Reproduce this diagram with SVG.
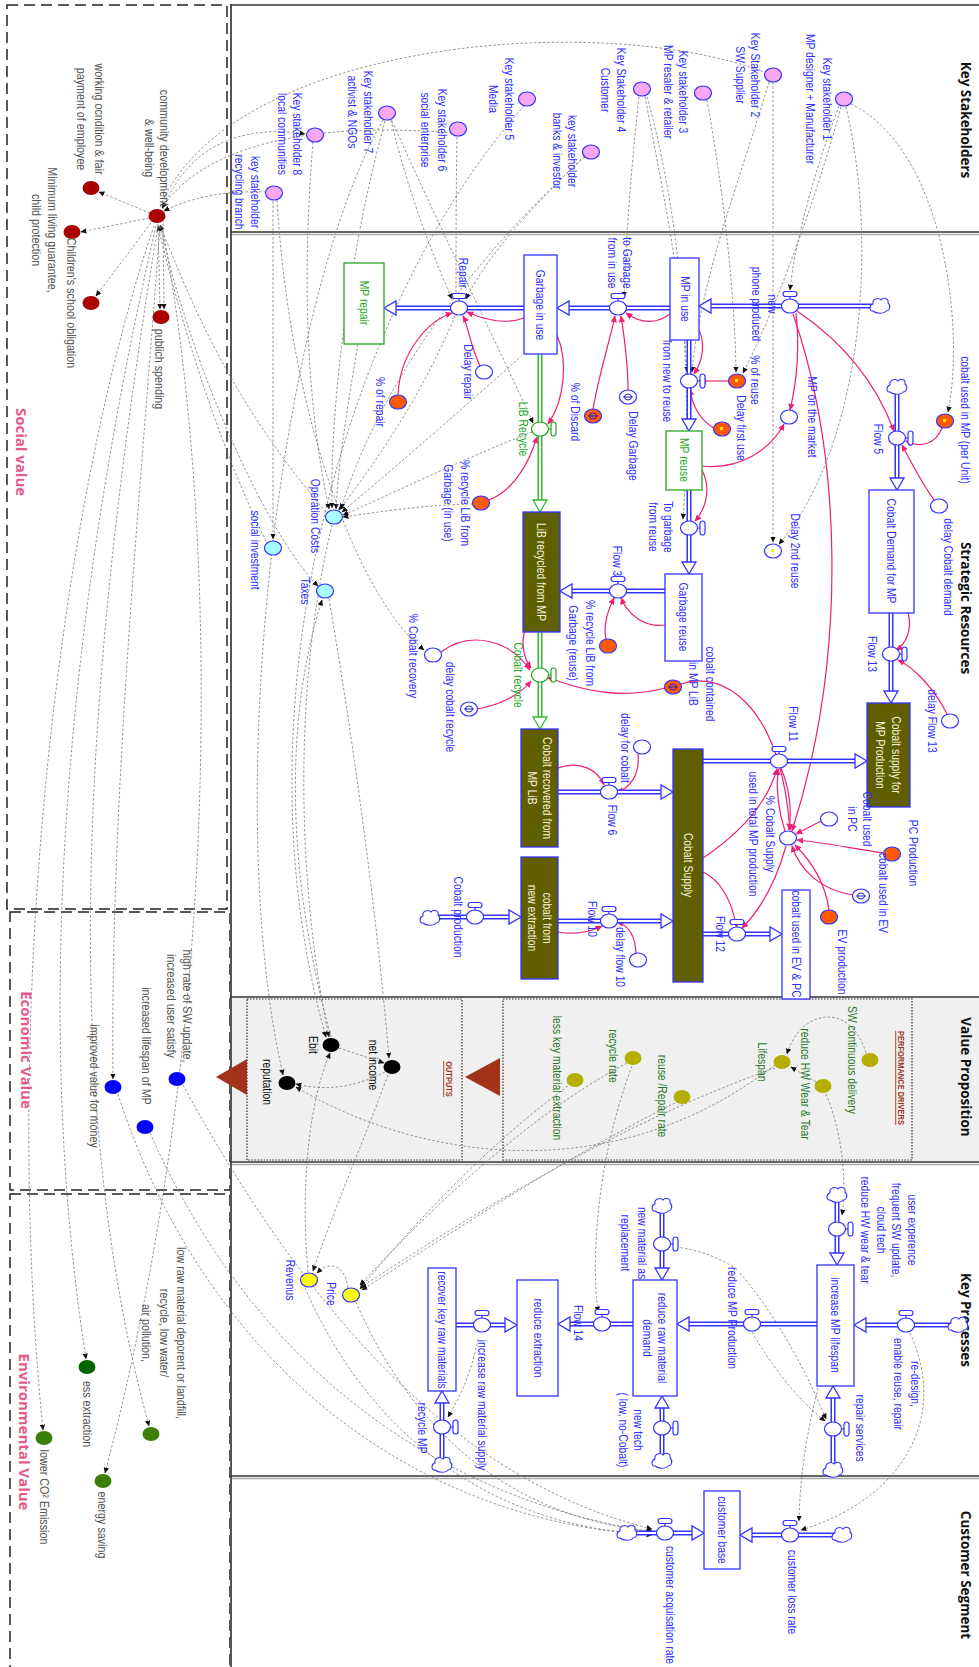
<svg xmlns="http://www.w3.org/2000/svg" xmlns:xlink="http://www.w3.org/1999/xlink" width="979" height="1667" viewBox="0 0 979 1667">
<defs>
<style>
.t{font-family:"Liberation Sans",Arial,sans-serif;font-size:12px;fill:#2f2fff;text-anchor:middle;dominant-baseline:central}
.g{fill:#25a825}
.gr{fill:#555;font-size:12.5px}
.w{fill:#f2f2dc}
.k{fill:#111}
.dg{fill:#2b7a2b}
.hd{font-family:"Liberation Sans",Arial,sans-serif;font-weight:bold;font-size:8.7px;fill:#9c3525;text-decoration:underline;text-anchor:middle;dominant-baseline:central}
.ti{font-family:"Open Sans","Liberation Sans",sans-serif;font-weight:700;font-size:13.5px;fill:#111;text-anchor:middle;dominant-baseline:central}
.pt{font-family:"Open Sans","Liberation Sans",sans-serif;font-weight:700;font-size:15px;fill:#e7588b;text-anchor:middle;dominant-baseline:central}
.n{stroke:#3333ff;stroke-width:1.2}
.pk{fill:#f8a8f6}.or{fill:#ff5a00}.wh{fill:#fff}.cy{fill:#a8ffff}.ye{fill:#ffff00}
.dr{fill:#aa0000}.bl{fill:#0000ff}.gn{fill:#3c7e0a}.dgn{fill:#006400}.ol{fill:#b3ae00}.bk{fill:#000}
.stk{fill:#fff;stroke:#3333ff;stroke-width:1.3}
.stg{fill:#fff;stroke:#22aa22;stroke-width:1.3}
.sto{fill:#5f5f00;stroke:#3333ff;stroke-width:1.3}
.po{fill:none;stroke:#3333ff;stroke-width:5}
.pg{fill:none;stroke:#33bb33;stroke-width:5}
.pi{fill:none;stroke:#fff;stroke-width:2}
.ah{fill:#fff;stroke:#3333ff;stroke-width:1.3}
.ahg{fill:#fff;stroke:#33bb33;stroke-width:1.3}
.vb{fill:#fff;stroke:#3333ff;stroke-width:1.2}
.vg{fill:#fff;stroke:#22aa22;stroke-width:1.2}
.cl{fill:#fff;stroke:#3333ff;stroke-width:1.1}
.dl{fill:none;stroke:#7a7a7a;stroke-width:.8;stroke-dasharray:2.5 2;marker-end:url(#ma)}
.dn{fill:none;stroke:#7a7a7a;stroke-width:.8;stroke-dasharray:2.5 2}
.pl{fill:none;stroke:#ee1f78;stroke-width:1.2;marker-end:url(#mp)}
.sec{stroke:#333;stroke-width:1.3}
.sec2{stroke:#aaa;stroke-width:1.5}
.dash{fill:none;stroke:#222;stroke-width:1.5;stroke-dasharray:11 6}
.dot{fill:none;stroke:#333;stroke-width:1.2;stroke-dasharray:1.5 1.5}
.phi{fill:none;stroke:#2222cc;stroke-width:1}
.ym{fill:#ffee00}
</style>
<marker id="ma" viewBox="0 0 10 10" refX="9" refY="5" markerUnits="userSpaceOnUse" markerWidth="6" markerHeight="6" orient="auto"><path d="M0,0.5 L10,5 L0,9.5 z" fill="#111"/></marker>
<marker id="mp" viewBox="0 0 10 10" refX="9" refY="5" markerUnits="userSpaceOnUse" markerWidth="7" markerHeight="7" orient="auto"><path d="M0,0.5 L10,5 L0,9.5 z" fill="#ee1f78"/></marker>
<g id="vh"><line x1="0" y1="-7" x2="0" y2="-10"/><rect x="-7" y="-14.5" width="14" height="5" rx="2.5"/><ellipse rx="8.5" ry="7"/></g>
<g id="vv"><line x1="8.5" y1="0" x2="11" y2="0"/><rect x="11" y="-7" width="5" height="14" rx="2.5"/><ellipse rx="8.5" ry="7"/></g>
<path id="cld" d="M-7,5 C-11,5 -11,-1 -7,-2 C-8,-7 -2,-9 1,-6 C3,-9 9,-8 8,-3 C11,-1 10,5 6,5 C4,8 -4,8 -7,5 Z"/>
<g id="phs"><ellipse rx="3.5" ry="3"/><line x1="-5" y1="0" x2="5" y2="0"/></g>
</defs>

<rect width="979" height="1667" fill="#fff"/>

<g id="frame">
<rect x="232" y="998" width="747" height="163" fill="#f0f0f0"/>
<rect class="dot" x="247" y="999" width="215" height="161"/>
<rect class="dot" x="503" y="999" width="409" height="161"/>
<rect class="dash" x="7" y="5" width="220" height="904"/>
<rect class="dash" x="10" y="912" width="220" height="278"/>
<rect class="dash" x="10" y="1194" width="220" height="480"/>
<line x1="231" y1="4" x2="231" y2="1667" stroke="#555" stroke-width="2"/>
<line class="sec" x1="230" y1="5" x2="979" y2="5"/>
<line class="sec" x1="230" y1="232" x2="979" y2="232"/><line class="sec2" x1="232" y1="234.5" x2="979" y2="234.5"/>
<line class="sec" x1="230" y1="997" x2="979" y2="997"/>
<line class="sec" x1="230" y1="1162" x2="979" y2="1162"/><line class="sec2" x1="232" y1="1164.5" x2="979" y2="1164.5"/>
<line class="sec" x1="230" y1="1476" x2="979" y2="1476"/><line class="sec2" x1="232" y1="1478.5" x2="979" y2="1478.5"/>
<polygon points="465,1077 500,1058 500,1096" fill="#a3321a"/>
<polygon points="216,1077 247,1059 247,1095" fill="#a3321a"/>
<text class="ti" transform="translate(966,120) rotate(90)">Key Stakeholders</text>
<text class="ti" transform="translate(966,608) rotate(90)">Strategic Resources</text>
<text class="ti" transform="translate(966,1077) rotate(90)">Value Proposition</text>
<text class="ti" transform="translate(966,1320) rotate(90)">Key Processes</text>
<text class="ti" transform="translate(966,1575) rotate(90)">Customer Segment</text>
<text class="pt" transform="translate(22,452) rotate(90)" font-size="16">Social value</text>
<text class="pt" transform="translate(27,1050) rotate(90)">Economic Value</text>
<text class="pt" transform="translate(25,1432) rotate(90)">Environmental Value</text>
<text class="hd" transform="translate(449,1079) rotate(90) scale(.86,1)">OUTPUTS</text>
<text class="hd" transform="translate(901,1078) rotate(90) scale(.86,1)">PERFORMANCE DRIVERS</text>
</g>

<g id="connectors">
<g id="info-links">
<path class="dl" d="M851,104 C945,150 965,330 948,412"/>
<path class="dl" d="M839,106 C815,170 795,240 790,290"/>
<path class="dl" d="M841,107 C810,220 770,320 743,373"/>
<path class="dl" d="M846,107 C880,250 860,450 779,544"/>
<path class="dl" d="M773,82 L773,542"/>
<path class="dl" d="M769,82 C740,180 700,280 692,372"/>
<path class="dl" d="M707,100 C725,200 735,300 736,372"/>
<path class="dl" d="M639,97 C630,180 626,240 624,297"/>
<path class="dl" d="M645,97 C665,200 684,300 687,372"/>
<path class="dl" d="M647,97 C690,250 690,420 683,519"/>
<path class="dl" d="M585,157 C480,250 380,380 341,509"/>
<path class="dl" d="M584,156 C540,200 490,250 466,299"/>
<path class="dl" d="M524,106 C350,300 230,700 326,1037"/>
<path class="dl" d="M457,137 C456,200 456,250 456,298"/>
<path class="dl" d="M391,120 C410,200 435,260 452,299"/>
<path class="dl" d="M385,121 C350,250 330,400 332,508"/>
<path class="dl" d="M383,120 C280,300 220,800 283,1075"/>
<path class="dl" d="M163,209 C190,140 250,125 305,134"/>
<path class="dl" d="M452,133 C300,120 200,150 162,208"/>
<path class="dl" d="M266,192 C220,190 185,200 164,211"/>
<path class="dl" d="M273,201 L273,539"/>
<path class="dn" d="M160,207 C230,40 600,10 764,72"/>
<path class="dl" d="M392,121 C450,250 500,350 533,423"/>
<path class="dl" d="M313,142 C300,300 310,420 329,509"/>
<path class="dl" d="M358,344 C345,420 338,470 336,509"/>
<path class="dl" d="M526,352 C450,420 380,480 342,512"/>
<path class="dl" d="M532,432 C460,460 390,495 343,515"/>
<path class="dl" d="M473,504 C420,505 380,512 343,517"/>
<path class="dl" d="M455,316 C420,400 370,470 339,510"/>
<path class="dl" d="M326,512 C230,400 190,300 160,225"/>
<path class="dl" d="M332,525 C290,700 300,900 329,1037"/>
<path class="dl" d="M329,599 C360,780 380,950 389,1058"/>
<path class="dl" d="M268,545 C220,450 180,320 158,226"/>
<path class="dl" d="M331,1037 C280,850 290,700 322,600"/>
<path class="dl" d="M160,226 C200,400 280,550 318,586"/>
<path class="dl" d="M277,200 C290,420 360,600 424,650"/>
<path class="dl" d="M158,224 L160,309"/>
<path class="dl" d="M163,224 L164,309"/>
<path class="dl" d="M150,213 L99,192"/>
<path class="dl" d="M149,218 L81,232"/>
<path class="dl" d="M151,223 L96,296"/>
<path class="dl" d="M154,226 C60,500 0,1000 43,1430"/>
<path class="dl" d="M156,226 C70,600 30,1000 86,1359"/>
<path class="dl" d="M158,226 C80,700 60,1100 149,1426"/>
<path class="dl" d="M160,226 C140,500 110,800 113,1079"/>
<path class="dl" d="M162,226 C215,500 230,1000 105,1473"/>
<path class="dl" d="M183,1085 C300,1300 450,1480 652,1529"/>
<path class="dl" d="M150,1133 C260,1380 450,1500 652,1532"/>
<path class="dl" d="M118,1094 C200,1350 400,1520 652,1535"/>
<path class="dl" d="M866,1053 C850,1000 800,1010 787,1054"/>
<path class="dl" d="M816,1082 L791,1067"/>
<path class="dl" d="M826,1094 C845,1140 846,1190 842,1215"/>
<path class="dl" d="M775,1068 C600,1130 450,1230 361,1287"/>
<path class="dl" d="M675,1103 C560,1160 440,1240 362,1290"/>
<path class="dl" d="M568,1086 C480,1150 400,1240 360,1289"/>
<path class="dl" d="M632,1066 C600,1150 590,1250 598,1312"/>
<path class="dl" d="M627,1063 C520,1120 420,1220 360,1285"/>
<path class="dl" d="M775,1065 C600,1200 400,1150 296,1087"/>
<path class="dl" d="M339,1048 L384,1063"/>
<path class="dl" d="M385,1072 C350,1090 320,1090 296,1084"/>
<path class="dl" d="M348,1288 C345,1265 330,1260 317,1273"/>
<path class="dl" d="M388,1075 C360,1150 330,1220 313,1271"/>
<path class="dl" d="M308,1272 C300,1180 310,1100 330,1053"/>
<path class="dl" d="M356,1302 C420,1450 530,1520 652,1531"/>
<path class="dl" d="M305,1288 C380,1460 520,1530 652,1534"/>
<path class="dl" d="M752,1332 C780,1380 805,1405 825,1421"/>
<path class="dl" d="M740,1273 C780,1320 810,1380 826,1419"/>
<path class="dl" d="M910,1333 C950,1420 900,1500 801,1530"/>
<path class="dl" d="M818,1388 C805,1440 800,1480 799,1521"/>
<path class="dl" d="M478,1339 C470,1380 455,1405 448,1417"/>
<path class="dn" d="M676,1247 C700,1250 720,1258 738,1270"/>
</g>
<g id="causal-links">
<path class="pl" d="M398,395 C400,350 430,320 452,313"/>
<path class="pl" d="M480,366 C470,345 468,325 463,316"/>
<path class="pl" d="M524,318 C505,325 485,320 467,312"/>
<path class="pl" d="M489,500 C515,490 530,460 537,437"/>
<path class="pl" d="M557,335 C568,360 565,400 548,424"/>
<path class="pl" d="M593,409 C600,370 610,340 615,316"/>
<path class="pl" d="M628,390 C628,360 624,335 621,316"/>
<path class="pl" d="M670,314 C655,325 640,323 626,313"/>
<path class="pl" d="M699,330 C706,345 702,362 694,374"/>
<path class="pl" d="M729,381 L700,381"/>
<path class="pl" d="M715,429 C700,420 692,405 690,389"/>
<path class="pl" d="M702,470 C712,490 705,510 695,521"/>
<path class="pl" d="M702,466 C740,470 770,450 784,424"/>
<path class="pl" d="M796,313 C800,350 796,385 790,410"/>
<path class="pl" d="M797,311 C840,340 875,380 894,431"/>
<path class="pl" d="M793,314 C840,450 850,650 792,831"/>
<path class="pl" d="M942,428 C935,445 920,448 906,441"/>
<path class="pl" d="M934,500 C920,480 910,460 902,445"/>
<path class="pl" d="M908,613 C913,630 905,645 896,650"/>
<path class="pl" d="M947,714 C935,690 915,668 898,660"/>
<path class="pl" d="M665,625 C645,628 628,615 621,598"/>
<path class="pl" d="M606,639 C603,625 608,610 614,598"/>
<path class="pl" d="M525,630 C520,645 525,660 531,668"/>
<path class="pl" d="M441,652 C470,630 510,640 530,670"/>
<path class="pl" d="M477,709 C500,705 520,695 531,681"/>
<path class="pl" d="M665,688 C620,700 580,690 547,677"/>
<path class="pl" d="M681,684 C720,670 780,700 790,830"/>
<path class="pl" d="M558,768 C580,760 598,770 604,785"/>
<path class="pl" d="M638,754 C640,775 630,788 617,792"/>
<path class="pl" d="M558,932 C575,935 590,932 602,926"/>
<path class="pl" d="M636,953 C635,935 628,925 617,922"/>
<path class="pl" d="M703,872 C720,880 732,900 736,926"/>
<path class="pl" d="M703,858 C730,840 765,810 777,769"/>
<path class="pl" d="M781,768 C790,790 792,810 789,830"/>
<path class="pl" d="M785,831 C778,810 776,790 778,769"/>
<path class="pl" d="M786,846 C775,885 760,910 742,928"/>
<path class="pl" d="M821,821 L796,834"/>
<path class="pl" d="M884,853 C850,848 820,842 797,840"/>
<path class="pl" d="M853,895 C820,890 800,870 792,846"/>
<path class="pl" d="M829,910 C825,880 810,860 795,845"/>
</g>
<g id="flow-pipes">
<path class="po" d="M880,306H711M670,308H569M524,308H396M665,591H572M558,792H661M558,921H661M430,917H509M703,761H855M703,934H770M958,1325H866M817,1324H689M633,1324H570M456,1325H505M627,1533H692M842,1535H752M689,340V419M689,490V562M897,387V478M891,613V691M837,1195V1253M833,1470V1398M662,1206V1268M662,1461V1408M442,1465V1403"/>
<path class="pg" d="M540,354V500M540,632V717"/>
<path class="pi" d="M880,306H711M670,308H569M524,308H396M665,591H572M558,792H661M558,921H661M430,917H509M703,761H855M703,934H770M958,1325H866M817,1324H689M633,1324H570M456,1325H505M627,1533H692M842,1535H752M689,340V419M689,490V562M897,387V478M891,613V691M837,1195V1253M833,1470V1398M662,1206V1268M662,1461V1408M442,1465V1403M540,354V500M540,632V717"/>
<polygon class="ah" points="699,306 711,299 711,313"/>
<polygon class="ah" points="557,308 569,301 569,315"/>
<polygon class="ah" points="384,308 396,301 396,315"/>
<polygon class="ah" points="560,591 572,584 572,598"/>
<polygon class="ah" points="673,792 661,785 661,799"/>
<polygon class="ah" points="673,921 661,914 661,928"/>
<polygon class="ah" points="521,917 509,910 509,924"/>
<polygon class="ah" points="867,761 855,754 855,768"/>
<polygon class="ah" points="782,934 770,927 770,941"/>
<polygon class="ah" points="854,1325 866,1318 866,1332"/>
<polygon class="ah" points="677,1324 689,1317 689,1331"/>
<polygon class="ah" points="558,1324 570,1317 570,1331"/>
<polygon class="ah" points="517,1325 505,1318 505,1332"/>
<polygon class="ah" points="704,1533 692,1526 692,1540"/>
<polygon class="ah" points="740,1535 752,1528 752,1542"/>
<polygon class="ah" points="689,431 682,419 696,419"/>
<polygon class="ah" points="689,574 682,562 696,562"/>
<polygon class="ahg" points="540,512 533,500 547,500"/>
<polygon class="ahg" points="540,729 533,717 547,717"/>
<polygon class="ah" points="897,490 890,478 904,478"/>
<polygon class="ah" points="891,703 884,691 898,691"/>
<polygon class="ah" points="837,1265 830,1253 844,1253"/>
<polygon class="ah" points="833,1386 826,1398 840,1398"/>
<polygon class="ah" points="662,1280 655,1268 669,1268"/>
<polygon class="ah" points="662,1396 655,1408 669,1408"/>
<polygon class="ah" points="442,1391 435,1403 449,1403"/>
</g>
</g>

<g id="clouds">
<use href="#cld" class="cl" x="880" y="306"/>
<use href="#cld" class="cl" x="430" y="918"/>
<use href="#cld" class="cl" x="897" y="387"/>
<use href="#cld" class="cl" x="837" y="1195"/>
<use href="#cld" class="cl" x="958" y="1325"/>
<use href="#cld" class="cl" x="833" y="1470"/>
<use href="#cld" class="cl" x="662" y="1206"/>
<use href="#cld" class="cl" x="662" y="1461"/>
<use href="#cld" class="cl" x="442" y="1465"/>
<use href="#cld" class="cl" x="627" y="1533"/>
<use href="#cld" class="cl" x="842" y="1535"/>
</g>

<g id="ks1"><ellipse class="n pk" cx="844" cy="99" rx="8.5" ry="7"/><text class="t" transform="translate(827,99) rotate(90) scale(.86,1)"><tspan x="0" y="0">Key stakeholder 1</tspan><tspan x="0" y="17">MP designer + Manufacturer</tspan></text></g>
<g id="ks2"><ellipse class="n pk" cx="773" cy="75" rx="8.5" ry="7"/><text class="t" transform="translate(755,75) rotate(90) scale(.86,1)"><tspan x="0" y="0">Key Stakeholder 2</tspan><tspan x="0" y="15">SW Supplier</tspan></text></g>
<g id="ks3"><ellipse class="n pk" cx="703" cy="93" rx="8.5" ry="7"/><text class="t" transform="translate(683,92) rotate(90) scale(.86,1)"><tspan x="0" y="0">Key stakeholder 3</tspan><tspan x="0" y="15">MP resaler &amp; retailer</tspan></text></g>
<g id="ks4"><ellipse class="n pk" cx="642" cy="89" rx="8.5" ry="7"/><text class="t" transform="translate(621,90) rotate(90) scale(.86,1)"><tspan x="0" y="0">Key Stakeholder 4</tspan><tspan x="0" y="16">Customer</tspan></text></g>
<g id="ks-banks"><ellipse class="n pk" cx="591" cy="152" rx="8.5" ry="7"/><text class="t" transform="translate(572,151) rotate(90) scale(.86,1)"><tspan x="0" y="0">key stakeholder</tspan><tspan x="0" y="15">banks &amp; investor</tspan></text></g>
<g id="ks5"><ellipse class="n pk" cx="527" cy="99" rx="8.5" ry="7"/><text class="t" transform="translate(509,99) rotate(90) scale(.86,1)"><tspan x="0" y="0">Key stakeholder 5</tspan><tspan x="0" y="16">Media</tspan></text></g>
<g id="ks6"><ellipse class="n pk" cx="458" cy="129" rx="8.5" ry="7"/><text class="t" transform="translate(442,130) rotate(90) scale(.86,1)"><tspan x="0" y="0">Key stakeholder 6</tspan><tspan x="0" y="17">social enterprise</tspan></text></g>
<g id="ks7"><ellipse class="n pk" cx="387" cy="113" rx="8.5" ry="7"/><text class="t" transform="translate(368,112) rotate(90) scale(.86,1)"><tspan x="0" y="0">Key stakeholder 7</tspan><tspan x="0" y="16">activist &amp; NGOs</tspan></text></g>
<g id="ks8"><ellipse class="n pk" cx="315" cy="135" rx="8.5" ry="7"/><text class="t" transform="translate(297,134) rotate(90) scale(.86,1)"><tspan x="0" y="0">Key stakeholder 8</tspan><tspan x="0" y="15">local communities</tspan></text></g>
<g id="ks-recycling"><ellipse class="n pk" cx="274" cy="193" rx="8.5" ry="7"/><text class="t" transform="translate(255,192) rotate(90) scale(.86,1)"><tspan x="0" y="0">key stakeholder</tspan><tspan x="0" y="16">recycling branch</tspan></text></g>

<g id="mp-in-use"><rect class="stk" x="670" y="258" width="29" height="82"/><text class="t" transform="translate(685,299) rotate(90) scale(.86,1)">MP in use</text></g>
<g id="garbage-in-use"><rect class="stk" x="524" y="255" width="33" height="99"/><text class="t" transform="translate(540,305) rotate(90) scale(.86,1)">Garbage in use</text></g>
<g id="mp-repair"><rect class="stg" x="344" y="263" width="40" height="81"/><text class="t g" transform="translate(364,303) rotate(90) scale(.86,1)">MP repair</text></g>
<g id="mp-reuse"><rect class="stg" x="666" y="431" width="36" height="59"/><text class="t g" transform="translate(684,460) rotate(90) scale(.86,1)">MP reuse</text></g>
<g id="garbage-reuse"><rect class="stk" x="665" y="574" width="37" height="87"/><text class="t" transform="translate(683,617) rotate(90) scale(.86,1)">Garbage reuse</text></g>
<g id="cobalt-demand"><rect class="stk" x="869" y="490" width="45" height="123"/><text class="t" transform="translate(891,551) rotate(90) scale(.86,1)">Cobalt Demand for MP</text></g>
<g id="cobalt-ev-pc"><rect class="stk" x="782" y="890" width="28" height="109"/><text class="t" transform="translate(796,944) rotate(90) scale(.86,1)">cobalt used in EV &amp; PC</text></g>
<g id="lib-recycled"><rect class="sto" x="523" y="512" width="37" height="120"/><text class="t w" transform="translate(541,572) rotate(90) scale(.86,1)">LiB recycled from MP</text></g>
<g id="cobalt-recovered"><rect class="sto" x="521" y="729" width="37" height="118"/><text class="t w" transform="translate(547,788) rotate(90) scale(.86,1)"><tspan x="0" y="0">Cobalt recovered from</tspan><tspan x="0" y="15">MP LiB</tspan></text></g>
<g id="cobalt-new-extraction"><rect class="sto" x="521" y="857" width="37" height="122"/><text class="t w" transform="translate(547,918) rotate(90) scale(.86,1)"><tspan x="0" y="0">cobalt from</tspan><tspan x="0" y="15">new extraction</tspan></text></g>
<g id="cobalt-supply"><rect class="sto" x="673" y="749" width="30" height="233"/><text class="t w" transform="translate(688,865) rotate(90) scale(.86,1)">Cobalt Supply</text></g>
<g id="cobalt-supply-mp"><rect class="sto" x="867" y="703" width="43" height="104"/><text class="t w" transform="translate(896,755) rotate(90) scale(.86,1)"><tspan x="0" y="0">Cobalt supply for</tspan><tspan x="0" y="16">MP Production</tspan></text></g>

<g id="v-new-phone"><use href="#vh" class="vb" x="790" y="306"/><text class="t" transform="translate(772,304) rotate(90) scale(.86,1)"><tspan x="0" y="0">new</tspan><tspan x="0" y="16">phone produced</tspan></text></g>
<g id="v-to-garbage"><use href="#vh" class="vb" x="618" y="308"/><text class="t" transform="translate(627,263) rotate(90) scale(.86,1)"><tspan x="0" y="0">to Garbage</tspan><tspan x="0" y="15">from in use</tspan></text></g>
<g id="v-repair"><use href="#vh" class="vb" x="459" y="308"/><text class="t" transform="translate(463,273) rotate(90) scale(.86,1)">Repair</text></g>
<g id="v-new-reuse"><use href="#vv" class="vb" x="689" y="381"/><text class="t" transform="translate(667,381) rotate(90) scale(.86,1)">from new to reuse</text></g>
<g id="v-garbage-reuse"><use href="#vv" class="vb" x="689" y="528"/><text class="t" transform="translate(668,527) rotate(90) scale(.86,1)"><tspan x="0" y="0">To garbage</tspan><tspan x="0" y="15">from reuse</tspan></text></g>
<g id="v-lib-recycle"><use href="#vv" class="vg" x="540" y="429"/><text class="t g" transform="translate(523,429) rotate(90) scale(.86,1)">LiB Recycle</text></g>
<g id="v-flow3"><use href="#vh" class="vb" x="618" y="591"/><text class="t" transform="translate(617,561) rotate(90) scale(.86,1)">Flow 3</text></g>
<g id="v-cobalt-recycle"><use href="#vv" class="vg" x="540" y="675"/><text class="t g" transform="translate(518,675) rotate(90) scale(.86,1)">Cobalt recycle</text></g>
<g id="v-flow6"><use href="#vh" class="vb" x="609" y="792"/><text class="t" transform="translate(612,820) rotate(90) scale(.86,1)">Flow 6</text></g>
<g id="v-flow10"><use href="#vh" class="vb" x="609" y="921"/><text class="t" transform="translate(592,919) rotate(90) scale(.86,1)">Flow 10</text></g>
<g id="v-cobalt-production"><use href="#vh" class="vb" x="475" y="917"/><text class="t" transform="translate(458,917) rotate(90) scale(.86,1)">Cobalt production</text></g>
<g id="v-flow11"><use href="#vh" class="vb" x="779" y="761"/><text class="t" transform="translate(793,724) rotate(90) scale(.86,1)">Flow 11</text></g>
<g id="v-flow12"><use href="#vh" class="vb" x="737" y="934"/><text class="t" transform="translate(720,934) rotate(90) scale(.86,1)">Flow 12</text></g>
<g id="v-flow5"><use href="#vv" class="vb" x="897" y="438"/><text class="t" transform="translate(878,439) rotate(90) scale(.86,1)">Flow 5</text></g>
<g id="v-flow13"><use href="#vv" class="vb" x="891" y="654"/><text class="t" transform="translate(872,654) rotate(90) scale(.86,1)">Flow 13</text></g>

<g id="delay-repair"><ellipse class="n wh" cx="484" cy="372" rx="8.5" ry="7"/><text class="t" transform="translate(468,372) rotate(90) scale(.86,1)">Delay repair</text></g>
<g id="pct-repair"><ellipse class="n or" cx="398" cy="402" rx="8.5" ry="7"/><text class="t" transform="translate(380,402) rotate(90) scale(.86,1)">% of repair</text></g>
<g id="pct-recycle-inuse"><ellipse class="n or" cx="481" cy="503" rx="8.5" ry="7"/><text class="t" transform="translate(465,503) rotate(90) scale(.86,1)"><tspan x="0" y="0">% recycle LiB from</tspan><tspan x="0" y="17">Garbage (in use)</tspan></text></g>
<g id="pct-discard"><ellipse class="n or" cx="593" cy="416" rx="8.5" ry="7"/><use href="#phs" class="phi" x="593" y="416"/><text class="t" transform="translate(575,412) rotate(90) scale(.86,1)">% of Discard</text></g>
<g id="delay-garbage"><ellipse class="n wh" cx="628" cy="397" rx="8.5" ry="7"/><use href="#phs" class="phi" x="628" y="397"/><text class="t" transform="translate(633,446) rotate(90) scale(.86,1)">Delay Garbage</text></g>
<g id="pct-reuse"><ellipse class="n or" cx="737" cy="381" rx="8.5" ry="7"/><rect class="ym" x="735" y="379" width="3" height="3"/><text class="t" transform="translate(755,380) rotate(90) scale(.86,1)">% of reuse</text></g>
<g id="delay-first-use"><ellipse class="n or" cx="722" cy="429" rx="8.5" ry="7"/><rect class="ym" x="720" y="427" width="3" height="3"/><text class="t" transform="translate(741,428) rotate(90) scale(.86,1)">Delay first use</text></g>
<g id="mp-market"><ellipse class="n wh" cx="789" cy="417" rx="8.5" ry="7"/><text class="t" transform="translate(812,417) rotate(90) scale(.86,1)">MP on the market</text></g>
<g id="cobalt-mp-unit"><ellipse class="n or" cx="945" cy="421" rx="8.5" ry="7"/><rect class="ym" x="943" y="419" width="3" height="3"/><text class="t" transform="translate(965,420) rotate(90) scale(.86,1)">cobalt used in MP (per Unit)</text></g>
<g id="delay-cobalt-demand"><ellipse class="n wh" cx="939" cy="506" rx="8.5" ry="7"/><text class="t" transform="translate(948,567) rotate(90) scale(.86,1)">delay Cobalt demand</text></g>
<g id="delay-2nd-reuse"><ellipse class="n wh" cx="773" cy="551" rx="8.5" ry="7"/><rect class="ym" x="771" y="549" width="3" height="3"/><text class="t" transform="translate(795,551) rotate(90) scale(.86,1)">Delay 2nd reuse</text></g>
<g id="delay-flow13"><ellipse class="n wh" cx="950" cy="721" rx="8.5" ry="7"/><text class="t" transform="translate(932,721) rotate(90) scale(.86,1)">delay Flow 13</text></g>
<g id="pct-recycle-reuse"><ellipse class="n or" cx="608" cy="646" rx="8.5" ry="7"/><text class="t" transform="translate(590,643) rotate(90) scale(.86,1)"><tspan x="0" y="0">% recycle LiB from</tspan><tspan x="0" y="17">Garbage (reuse)</tspan></text></g>
<g id="cobalt-contained"><ellipse class="n or" cx="673" cy="687" rx="8.5" ry="7"/><use href="#phs" class="phi" x="673" y="687"/><text class="t" transform="translate(710,684) rotate(90) scale(.86,1)"><tspan x="0" y="0">cobalt contained</tspan><tspan x="0" y="17">in MP LiB</tspan></text></g>
<g id="pct-cobalt-recovery"><ellipse class="n wh" cx="433" cy="655" rx="8.5" ry="7"/><text class="t" transform="translate(413,656) rotate(90) scale(.86,1)">% Cobalt recovery</text></g>
<g id="delay-cobalt-recycle"><ellipse class="n wh" cx="469" cy="709" rx="8.5" ry="7"/><use href="#phs" class="phi" x="469" y="709"/><text class="t" transform="translate(450,707) rotate(90) scale(.86,1)">delay cobalt recycle</text></g>
<g id="delay-for-cobalt"><ellipse class="n wh" cx="642" cy="747" rx="8.5" ry="7"/><text class="t" transform="translate(625,748) rotate(90) scale(.86,1)">delay for cobalt</text></g>
<g id="delay-flow10"><ellipse class="n wh" cx="638" cy="960" rx="8.5" ry="7"/><text class="t" transform="translate(620,957) rotate(90) scale(.86,1)">delay flow 10</text></g>
<g id="pct-cobalt-supply"><ellipse class="n wh" cx="788" cy="838" rx="8.5" ry="7"/><text class="t" transform="translate(770,834) rotate(90) scale(.86,1)"><tspan x="0" y="0">% Cobalt Supply</tspan><tspan x="0" y="17">used in total MP production</tspan></text></g>
<g id="cobalt-pc"><ellipse class="n wh" cx="829" cy="819" rx="8.5" ry="7"/><text class="t" transform="translate(867,819) rotate(90) scale(.86,1)"><tspan x="0" y="0">Cobalt used</tspan><tspan x="0" y="15">in PC</tspan></text></g>
<g id="pc-production"><ellipse class="n or" cx="892" cy="854" rx="8.5" ry="7"/><text class="t" transform="translate(913,853) rotate(90) scale(.86,1)">PC Production</text></g>
<g id="cobalt-ev"><ellipse class="n wh" cx="861" cy="896" rx="8.5" ry="7"/><use href="#phs" class="phi" x="861" y="896"/><text class="t" transform="translate(883,893) rotate(90) scale(.86,1)">cobalt used in EV</text></g>
<g id="ev-production"><ellipse class="n or" cx="829" cy="917" rx="8.5" ry="7"/><text class="t" transform="translate(842,962) rotate(90) scale(.86,1)">EV production</text></g>
<g id="operation-costs"><ellipse class="n cy" cx="334" cy="517" rx="8.5" ry="7"/><text class="t" transform="translate(315,516) rotate(90) scale(.86,1)">Operation Costs</text></g>
<g id="social-investment"><ellipse class="n cy" cx="273" cy="548" rx="8.5" ry="7"/><text class="t" transform="translate(255,550) rotate(90) scale(.86,1)">social investment</text></g>
<g id="taxes"><ellipse class="n cy" cx="325" cy="591" rx="8.5" ry="7"/><text class="t" transform="translate(305,591) rotate(90) scale(.86,1)">Taxes</text></g>

<g id="community"><ellipse class="dr" cx="157" cy="216" rx="8.5" ry="7"/><text class="t gr" transform="translate(165,148) rotate(90) scale(.86,1)"><tspan x="0" y="0">community development</tspan><tspan x="0" y="15">&amp; well-being</tspan></text></g>
<g id="working"><ellipse class="dr" cx="91" cy="188" rx="8.5" ry="7"/><text class="t gr" transform="translate(100,119) rotate(90) scale(.86,1)"><tspan x="0" y="0">working ocndition &amp; fair</tspan><tspan x="0" y="18">payment of employee</tspan></text></g>
<g id="children"><ellipse class="dr" cx="72" cy="232" rx="8.5" ry="7"/><text class="t gr" transform="translate(72,303) rotate(90) scale(.86,1)">Children's school obligation</text></g>
<g id="minimum-living"><ellipse class="dr" cx="91" cy="303" rx="8.5" ry="7"/><text class="t gr" transform="translate(53,230) rotate(90) scale(.86,1)"><tspan x="0" y="0">Minimum living guarantee,</tspan><tspan x="0" y="16">child protection</tspan></text></g>
<g id="public-spending"><ellipse class="dr" cx="161" cy="317" rx="8.5" ry="7"/><text class="t gr" transform="translate(160,369) rotate(90) scale(.86,1)">publich spending</text></g>

<g id="high-rate-sw"><ellipse class="bl" cx="177" cy="1079" rx="8.5" ry="7"/><text class="t gr" transform="translate(188,1006) rotate(90) scale(.86,1)"><tspan x="0" y="0">high rate of SW update,</tspan><tspan x="0" y="16">increased user satisfy</tspan></text></g>
<g id="increased-lifespan"><ellipse class="bl" cx="145" cy="1127" rx="8.5" ry="7"/><text class="t gr" transform="translate(147,1046) rotate(90) scale(.86,1)">increased lifespan of MP</text></g>
<g id="value-money"><ellipse class="bl" cx="113" cy="1087" rx="8.5" ry="7"/><text class="t gr" transform="translate(95,1086) rotate(90) scale(.86,1)">improved value for money</text></g>

<g id="low-raw"><ellipse class="gn" cx="151" cy="1434" rx="8.5" ry="7"/><text class="t gr" transform="translate(182,1333) rotate(90) scale(.86,1)"><tspan x="0" y="0">low raw material deporent or landfill,</tspan><tspan x="0" y="17">recycle, low water/</tspan><tspan x="0" y="35">air pollution,</tspan></text></g>
<g id="less-extraction"><ellipse class="dgn" cx="87" cy="1367" rx="8.5" ry="7"/><text class="t gr" transform="translate(88,1414) rotate(90) scale(.86,1)">ess extraction</text></g>
<g id="lower-co2"><ellipse class="gn" cx="44" cy="1438" rx="8.5" ry="7"/><text class="t gr" transform="translate(45,1497) rotate(90) scale(.86,1)">lower CO² Emission</text></g>
<g id="energy-saving"><ellipse class="gn" cx="103" cy="1481" rx="8.5" ry="7"/><text class="t gr" transform="translate(103,1525) rotate(90) scale(.86,1)">energy saving</text></g>

<g id="net-income"><ellipse class="bk" cx="392" cy="1067" rx="8.5" ry="7"/><text class="t k" transform="translate(373,1065) rotate(90) scale(.86,1)">net income</text></g>
<g id="ebit"><ellipse class="bk" cx="331" cy="1045" rx="8.5" ry="7"/><text class="t k" transform="translate(313,1045) rotate(90) scale(.86,1)">Ebit</text></g>
<g id="reputation"><ellipse class="bk" cx="287" cy="1083" rx="8.5" ry="7"/><text class="t k" transform="translate(267,1082) rotate(90) scale(.86,1)">reputation</text></g>
<g id="sw-delivery"><ellipse class="ol" cx="870" cy="1060" rx="8.5" ry="7"/><text class="t dg" transform="translate(852,1060) rotate(90) scale(.86,1)">SW continuous delivery</text></g>
<g id="reduce-hw"><ellipse class="ol" cx="823" cy="1086" rx="8.5" ry="7"/><text class="t dg" transform="translate(805,1084) rotate(90) scale(.86,1)">reduce HW Wear &amp; Tear</text></g>
<g id="lifespan"><ellipse class="ol" cx="782" cy="1062" rx="8.5" ry="7"/><text class="t dg" transform="translate(762,1062) rotate(90) scale(.86,1)">Lifespan</text></g>
<g id="reuse-repair-rate"><ellipse class="ol" cx="682" cy="1097" rx="8.5" ry="7"/><text class="t dg" transform="translate(662,1096) rotate(90) scale(.86,1)">reuse /Repair rate</text></g>
<g id="recycle-rate"><ellipse class="ol" cx="633" cy="1058" rx="8.5" ry="7"/><text class="t dg" transform="translate(613,1056) rotate(90) scale(.86,1)">recycle rate</text></g>
<g id="less-key-material"><ellipse class="ol" cx="575" cy="1080" rx="8.5" ry="7"/><text class="t dg" transform="translate(557,1078) rotate(90) scale(.86,1)">less key material extraction</text></g>

<g id="increase-mp-lifespan"><rect class="stk" x="817" y="1265" width="37" height="121"/><text class="t" transform="translate(835,1325) rotate(90) scale(.86,1)">increase  MP lifespan</text></g>
<g id="reduce-raw-demand"><rect class="stk" x="633" y="1280" width="44" height="116"/><text class="t" transform="translate(662,1338) rotate(90) scale(.86,1)"><tspan x="0" y="0">reduce raw material</tspan><tspan x="0" y="15">demand</tspan></text></g>
<g id="reduce-extraction"><rect class="stk" x="517" y="1280" width="41" height="116"/><text class="t" transform="translate(538,1338) rotate(90) scale(.86,1)">reduce extraction</text></g>
<g id="recover-key-raw"><rect class="stk" x="428" y="1268" width="28" height="123"/><text class="t" transform="translate(442,1330) rotate(90) scale(.86,1)">recover key raw materials</text></g>
<g id="v-user-experience"><use href="#vv" class="vb" x="837" y="1229"/><text class="t" transform="translate(912,1230) rotate(90) scale(.86,1)"><tspan x="0" y="0">user experence</tspan><tspan x="0" y="15.5">frequent SW update,</tspan><tspan x="0" y="31">cloud tech</tspan><tspan x="0" y="46.5">reduce HW wear &amp; tear</tspan></text></g>
<g id="v-redesign"><use href="#vh" class="vb" x="906" y="1325"/><text class="t" transform="translate(915,1384) rotate(90) scale(.86,1)"><tspan x="0" y="0">re-design,</tspan><tspan x="0" y="17">enable reuse, repair</tspan></text></g>
<g id="v-repair-services"><use href="#vv" class="vb" x="833" y="1429"/><text class="t" transform="translate(860,1428) rotate(90) scale(.86,1)">repair services</text></g>
<g id="v-reduce-mp"><use href="#vh" class="vb" x="752" y="1324"/><text class="t" transform="translate(732,1318) rotate(90) scale(.86,1)">reduce MP Production</text></g>
<g id="v-new-material"><use href="#vv" class="vb" x="662" y="1244"/><text class="t" transform="translate(642,1243) rotate(90) scale(.86,1)"><tspan x="0" y="0">new material as</tspan><tspan x="0" y="17">replacement</tspan></text></g>
<g id="v-new-tech"><use href="#vv" class="vb" x="662" y="1428"/><text class="t" transform="translate(638,1430) rotate(90) scale(.86,1)"><tspan x="0" y="0">new tech</tspan><tspan x="0" y="15">( low, no-Cobalt)</tspan></text></g>
<g id="v-flow14"><use href="#vh" class="vb" x="602" y="1324"/><text class="t" transform="translate(578,1323) rotate(90) scale(.86,1)">Flow 14</text></g>
<g id="v-increase-raw"><use href="#vh" class="vb" x="482" y="1325"/><text class="t" transform="translate(482,1405) rotate(90) scale(.86,1)">increase raw material supply</text></g>
<g id="v-recycle-mp"><use href="#vv" class="vb" x="442" y="1427"/><text class="t" transform="translate(422,1428) rotate(90) scale(.86,1)">recycle MP</text></g>
<g id="revenus"><ellipse class="n ye" cx="309" cy="1280" rx="8.5" ry="7"/><text class="t" transform="translate(290,1280) rotate(90) scale(.86,1)">Revenus</text></g>
<g id="price"><ellipse class="n ye" cx="351" cy="1295" rx="8.5" ry="7"/><text class="t" transform="translate(331,1294) rotate(90) scale(.86,1)">Price</text></g>

<g id="customer-base"><rect class="stk" x="704" y="1491" width="36" height="78"/><text class="t" transform="translate(722,1530) rotate(90) scale(.86,1)">customer base</text></g>
<g id="v-customer-acq"><use href="#vh" class="vb" x="665" y="1533"/><text class="t" transform="translate(670,1605) rotate(90) scale(.86,1)">customer acquisation rate</text></g>
<g id="v-customer-loss"><use href="#vh" class="vb" x="790" y="1535"/><text class="t" transform="translate(792,1592) rotate(90) scale(.86,1)">customer loss rate</text></g>
</svg>
